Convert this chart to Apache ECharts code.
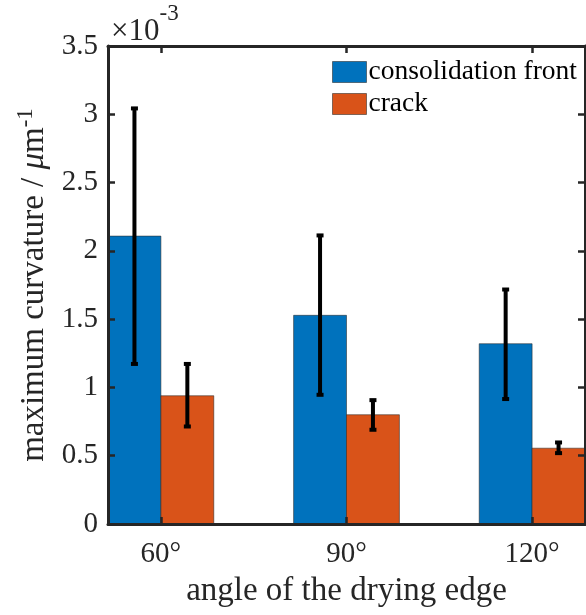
<!DOCTYPE html>
<html>
<head>
<meta charset="utf-8">
<script src="https://cdn.jsdelivr.net/npm/echarts@6/dist/echarts.min.js"></script>
<style>
html,body{margin:0;padding:0;background:#fff;}
#c{width:586px;height:615px;}
</style>
</head>
<body>
<div id="c"></div>
<script>
// ---- data (values in units of 1e-3 µm^-1) ----
var categories = ['60°', '90°', '120°'];
var seriesNames = ['consolidation front', 'crack'];
var frontMean = [2.108, 1.528, 1.320];
var frontLow  = [1.172, 0.946, 0.915];
var frontHigh = [3.043, 2.113, 1.717];
var crackMean = [0.939, 0.800, 0.555];
var crackLow  = [0.714, 0.690, 0.519];
var crackHigh = [1.172, 0.907, 0.597];
var yTicks = [0, 0.5, 1, 1.5, 2, 2.5, 3, 3.5];

var BLUE = '#0072BD', ORANGE = '#D95319';
var FONT = 'Liberation Serif';
var BW = 0.285; // bar width in category units
var catPos = categories.map(function (c, i) { return i + 1; });

function barData(vals) { return vals.map(function (v, i) { return [catPos[i], v]; }); }
function errData(lo, hi) { return lo.map(function (v, i) { return [catPos[i], lo[i], hi[i]]; }); }

function barRender(offset, color) {
  return function (params, api) {
    var x = api.value(0) + offset;
    var p0 = api.coord([x, api.value(1)]);
    var p1 = api.coord([x + BW, 0]);
    return {
      type: 'rect',
      shape: { x: p0[0], y: p0[1], width: p1[0] - p0[0], height: p1[1] - p0[1] },
      style: { fill: color, stroke: 'rgba(40,40,40,0.55)', lineWidth: 1 }
    };
  };
}
function errRender(offset) {
  return function (params, api) {
    var x = api.value(0) + offset;
    var lo = api.coord([x, api.value(1)]);
    var hi = api.coord([x, api.value(2)]);
    var cw = 3.5;
    var st = { stroke: '#000', lineWidth: 4 };
    return {
      type: 'group',
      children: [
        { type: 'line', shape: { x1: lo[0], y1: lo[1], x2: hi[0], y2: hi[1] }, style: st },
        { type: 'line', shape: { x1: lo[0] - cw, y1: lo[1], x2: lo[0] + cw, y2: lo[1] }, style: st },
        { type: 'line', shape: { x1: hi[0] - cw, y1: hi[1], x2: hi[0] + cw, y2: hi[1] }, style: st }
      ]
    };
  };
}

var axisLineStyle = { color: '#262626', width: 3 };
var chart = echarts.init(document.getElementById('c'), null, { renderer: 'canvas' });
var xMin = 1 - BW, xMax = categories.length + BW;

chart.setOption({
  animation: false,
  backgroundColor: '#fff',
  grid: { left: 108, right: 1, top: 46, bottom: 91, containLabel: false },
  legend: {
    data: [
      { name: seriesNames[0], icon: 'rect', itemStyle: { color: BLUE, borderColor: 'rgba(40,40,40,0.55)', borderWidth: 1 } },
      { name: seriesNames[1], icon: 'rect', itemStyle: { color: ORANGE, borderColor: 'rgba(40,40,40,0.55)', borderWidth: 1 } }
    ],
    orient: 'vertical',
    left: 332, top: 58,
    itemWidth: 34, itemHeight: 21, itemGap: 4,
    padding: 0,
    textStyle: { fontFamily: FONT, fontSize: 27.5, color: '#000', padding: [0, 0, 0, -3] }
  },
  xAxis: [
    {
      type: 'value', min: xMin, max: xMax, position: 'bottom', z: 10,
      axisLine: { show: true, onZero: false, lineStyle: axisLineStyle },
      axisTick: { show: true, inside: true, length: 7, customValues: catPos, lineStyle: { color: '#262626', width: 2.5 } },
      axisLabel: {
        show: true, customValues: catPos, margin: 16,
        fontFamily: FONT, fontSize: 29, color: '#262626',
        formatter: function (v) { var i = Math.round(v) - 1; return categories[i] || ''; }
      },
      splitLine: { show: false },
      name: 'angle of the drying edge', nameLocation: 'middle', nameGap: 51,
      nameTextStyle: { fontFamily: FONT, fontSize: 33, color: '#262626' }
    },
    {
      type: 'value', min: xMin, max: xMax, position: 'top', z: 10,
      axisLine: { show: true, onZero: false, lineStyle: axisLineStyle },
      axisTick: { show: true, inside: true, length: 7, customValues: catPos, lineStyle: { color: '#262626', width: 2.5 } },
      axisLabel: { show: false }, splitLine: { show: false }
    }
  ],
  yAxis: [
    {
      type: 'value', min: 0, max: 3.5, interval: 0.5, position: 'left', z: 10,
      axisLine: { show: true, onZero: false, lineStyle: axisLineStyle },
      axisTick: { show: true, inside: true, length: 7, lineStyle: { color: '#262626', width: 2.5 } },
      axisLabel: {
        margin: 10, fontFamily: FONT, fontSize: 29, color: '#262626',
        formatter: function (v) { return yTicks.indexOf(v) >= 0 ? String(v) : ''; }
      },
      splitLine: { show: false },
      name: '{a|maximum curvature / }{i|μ}{a|m}{s|-1}',
      nameLocation: 'middle', nameRotate: 90, nameGap: 50,
      nameTextStyle: {
        fontFamily: FONT, fontSize: 33, color: '#262626',
        rich: {
          a: { fontFamily: FONT, fontSize: 33, color: '#262626' },
          i: { fontFamily: FONT, fontSize: 33, fontStyle: 'italic', color: '#262626' },
          s: { fontFamily: FONT, fontSize: 23, color: '#262626', verticalAlign: 'top', padding: [0, 0, 16, 0] }
        }
      }
    },
    {
      type: 'value', min: 0, max: 3.5, interval: 0.5, position: 'right', z: 10,
      axisLine: { show: true, onZero: false, lineStyle: axisLineStyle },
      axisTick: { show: true, inside: true, length: 7, lineStyle: { color: '#262626', width: 2.5 } },
      axisLabel: { show: false }, splitLine: { show: false }
    }
  ],
  graphic: [
    {
      type: 'text', left: 111, top: 2, z: 20,
      style: {
        text: '{a|×10}{s|-3}',
        rich: {
          a: { fontFamily: FONT, fontSize: 31, fill: '#262626', padding: [14, 0, 0, 0] },
          s: { fontFamily: FONT, fontSize: 23, fill: '#262626', verticalAlign: 'top' }
        }
      }
    }
  ],
  series: [
    { name: seriesNames[0], type: 'custom', xAxisIndex: 0, yAxisIndex: 0, itemStyle: { color: BLUE },
      renderItem: barRender(-BW, BLUE), data: barData(frontMean), z: 2 },
    { name: seriesNames[1], type: 'custom', xAxisIndex: 0, yAxisIndex: 0, itemStyle: { color: ORANGE },
      renderItem: barRender(0, ORANGE), data: barData(crackMean), z: 2 },
    { name: 'errFront', type: 'custom', renderItem: errRender(-BW / 2), data: errData(frontLow, frontHigh), z: 3 },
    { name: 'errCrack', type: 'custom', renderItem: errRender(BW / 2), data: errData(crackLow, crackHigh), z: 3 }
  ]
});
</script>
</body>
</html>
